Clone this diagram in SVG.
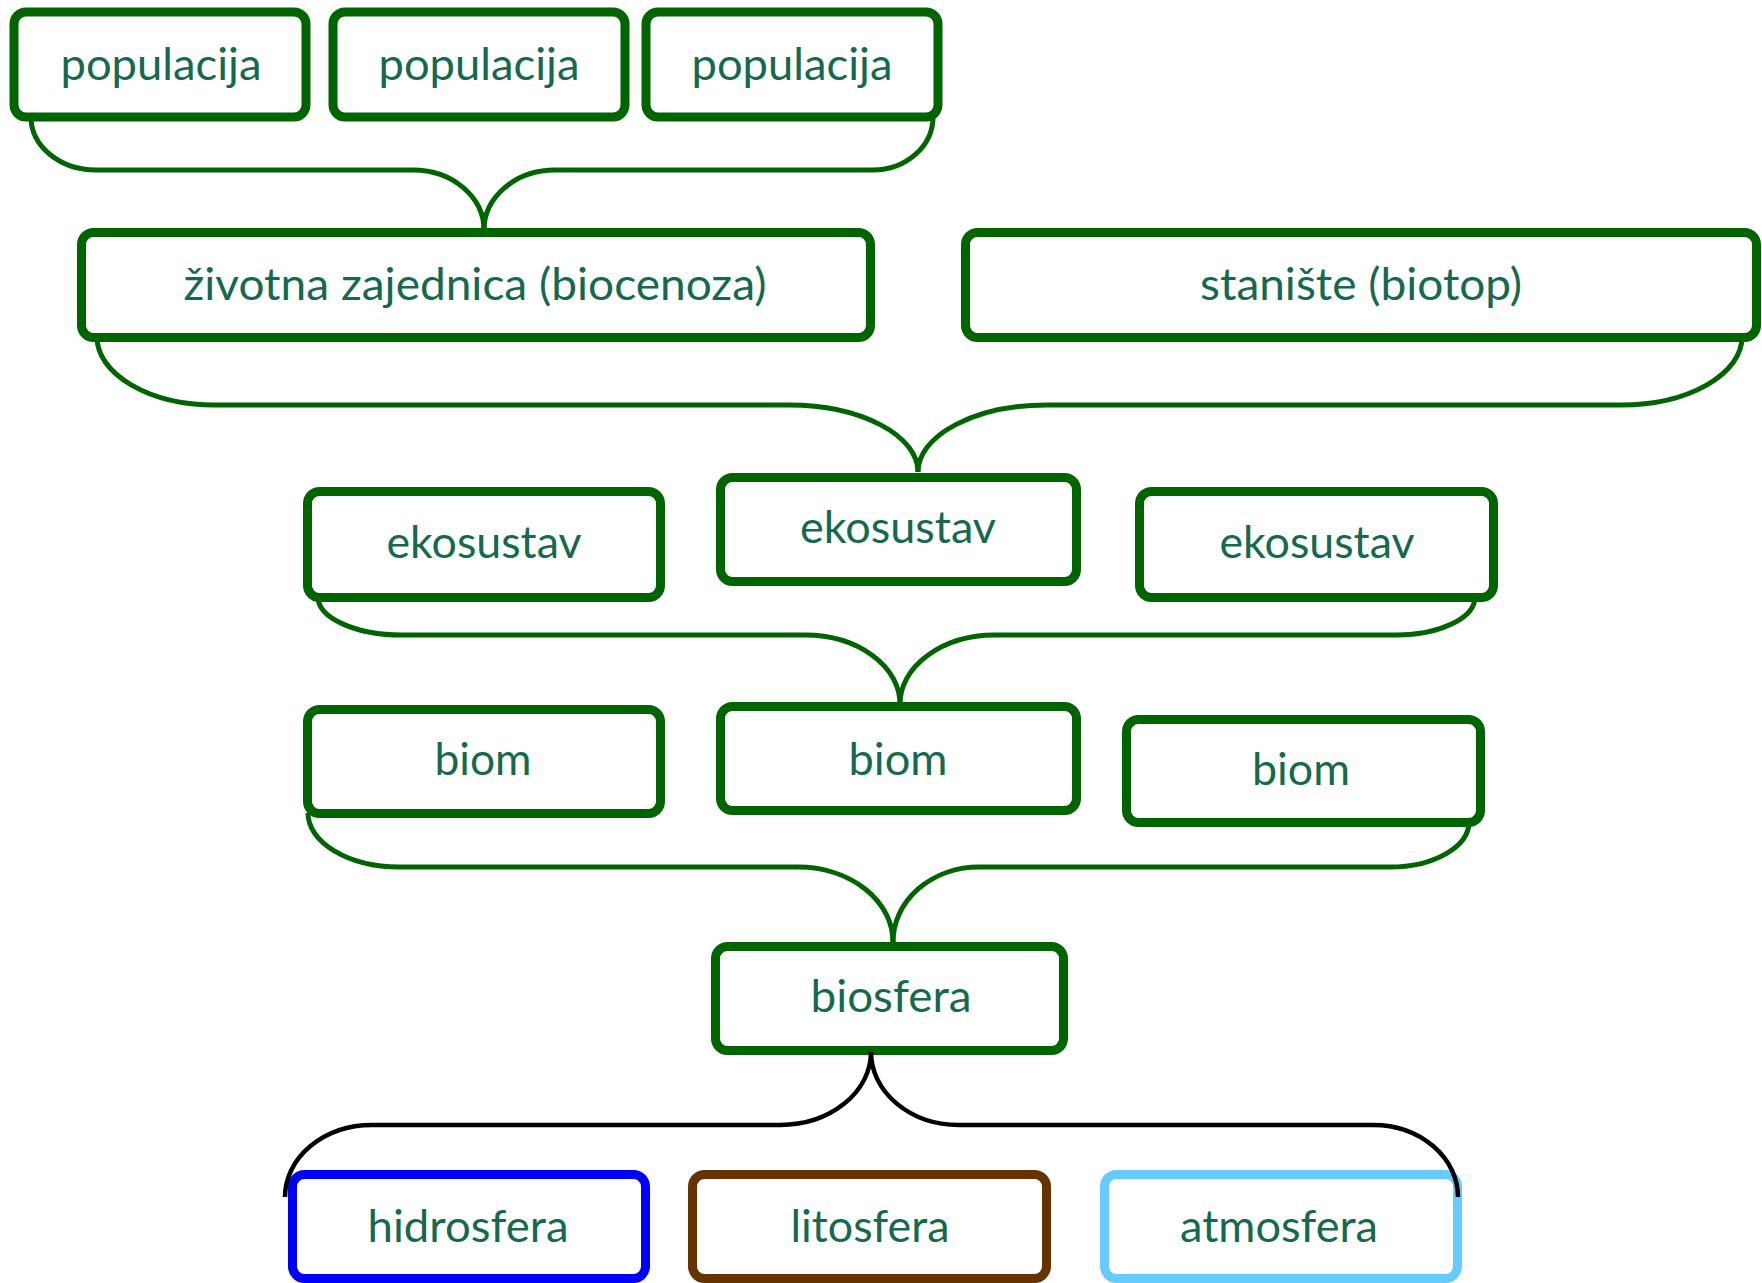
<svg xmlns="http://www.w3.org/2000/svg" width="1762" height="1283" viewBox="0 0 1762 1283">
  <style>
    .box { fill: #ffffff; stroke: #006400; stroke-width: 9; }
    .hydro { stroke: #0000ff; }
    .litho { stroke: #663300; }
    .atmo { stroke: #66ccff; }
    .lbl { font-family: Lato, "Open Sans", sans-serif; font-size: 44px; fill: #16694d; text-anchor: middle; }
    .brace { fill: none; stroke: #006400; stroke-width: 5; stroke-linejoin: miter; }
    .brace-k { fill: none; stroke: #000000; stroke-width: 4.5; }
  </style>
  <rect width="1762" height="1283" fill="#ffffff"/>

  <g id="nodes">
    <g id="populacija1"><rect class="box" x="14" y="12" width="292" height="105" rx="12"/><text class="lbl" x="161" y="80" textLength="201" lengthAdjust="spacingAndGlyphs">populacija</text></g>
    <g id="populacija2"><rect class="box" x="333" y="12" width="292" height="105" rx="12"/><text class="lbl" x="479" y="80" textLength="201" lengthAdjust="spacingAndGlyphs">populacija</text></g>
    <g id="populacija3"><rect class="box" x="646" y="12" width="292" height="105" rx="12"/><text class="lbl" x="792" y="80" textLength="201" lengthAdjust="spacingAndGlyphs">populacija</text></g>

    <g id="biocenoza"><rect class="box" x="81.5" y="232.5" width="789" height="105" rx="12"/><text class="lbl" x="475" y="300" textLength="583" lengthAdjust="spacingAndGlyphs">životna zajednica (biocenoza)</text></g>
    <g id="biotop"><rect class="box" x="965.5" y="232.5" width="791" height="105" rx="12"/><text class="lbl" x="1361" y="300" textLength="322" lengthAdjust="spacingAndGlyphs">stanište (biotop)</text></g>

    <g id="ekosustav1"><rect class="box" x="307.5" y="491.5" width="353" height="106" rx="12"/><text class="lbl" x="484" y="558" textLength="195" lengthAdjust="spacingAndGlyphs">ekosustav</text></g>
    <g id="ekosustav2"><rect class="box" x="720.5" y="477.5" width="356" height="104" rx="12"/><text class="lbl" x="898" y="543" textLength="196" lengthAdjust="spacingAndGlyphs">ekosustav</text></g>
    <g id="ekosustav3"><rect class="box" x="1139.5" y="491.5" width="354" height="106" rx="12"/><text class="lbl" x="1317" y="558" textLength="195" lengthAdjust="spacingAndGlyphs">ekosustav</text></g>

    <g id="biom1"><rect class="box" x="307.5" y="709.5" width="353" height="104" rx="12"/><text class="lbl" x="483" y="775" textLength="97" lengthAdjust="spacingAndGlyphs">biom</text></g>
    <g id="biom2"><rect class="box" x="720.5" y="706.5" width="356" height="104" rx="12"/><text class="lbl" x="898" y="775" textLength="99" lengthAdjust="spacingAndGlyphs">biom</text></g>
    <g id="biom3"><rect class="box" x="1126.5" y="719.5" width="354" height="103" rx="12"/><text class="lbl" x="1301" y="785" textLength="98" lengthAdjust="spacingAndGlyphs">biom</text></g>

    <g id="biosfera"><rect class="box" x="715.5" y="946.5" width="348" height="104" rx="12"/><text class="lbl" x="891" y="1012" textLength="161" lengthAdjust="spacingAndGlyphs">biosfera</text></g>

    <g id="hidrosfera"><rect class="box hydro" x="292.5" y="1174.5" width="353" height="104" rx="12"/><text class="lbl" x="468" y="1242" textLength="201" lengthAdjust="spacingAndGlyphs">hidrosfera</text></g>
    <g id="litosfera"><rect class="box litho" x="692.5" y="1174.5" width="354" height="104" rx="12"/><text class="lbl" x="870" y="1242" textLength="159" lengthAdjust="spacingAndGlyphs">litosfera</text></g>
    <g id="atmosfera"><rect class="box atmo" x="1104.5" y="1174.5" width="353" height="104" rx="12"/><text class="lbl" x="1279" y="1242" textLength="198" lengthAdjust="spacingAndGlyphs">atmosfera</text></g>
  </g>

  <g id="connectors">
    <path class="brace" d="M31,117 A65,53 0 0 0 96,170 L413,170 A71,60 0 0 1 484,230"/>
    <path class="brace" d="M933,117 A60,53 0 0 1 873,170 L555,170 A71,60 0 0 0 484,230"/>

    <path class="brace" d="M97,337 A118,68 0 0 0 215,405 L789,405 A129,67 0 0 1 918,472"/>
    <path class="brace" d="M1742,337 A121,68 0 0 1 1621,405 L1047,405 A129,67 0 0 0 918,472"/>

    <path class="brace" d="M318,597 A84,38 0 0 0 402,635 L805,635 A95,69 0 0 1 900,704"/>
    <path class="brace" d="M1475,597 A78,38 0 0 1 1397,635 L995,635 A95,69 0 0 0 900,704"/>

    <path class="brace" d="M308,813 A91,54 0 0 0 399,867 L798,867 A95,75 0 0 1 893,942"/>
    <path class="brace" d="M1469,822 A79,45 0 0 1 1390,867 L979,867 A86,75 0 0 0 893,942"/>

    <path class="brace-k" d="M871,1052 A91,73 0 0 1 780,1125 L372,1125 A87,72 0 0 0 285,1197"/>
    <path class="brace-k" d="M871,1052 A88,73 0 0 0 959,1125 L1373,1125 A85,72 0 0 1 1458,1197"/>
  </g>
</svg>
